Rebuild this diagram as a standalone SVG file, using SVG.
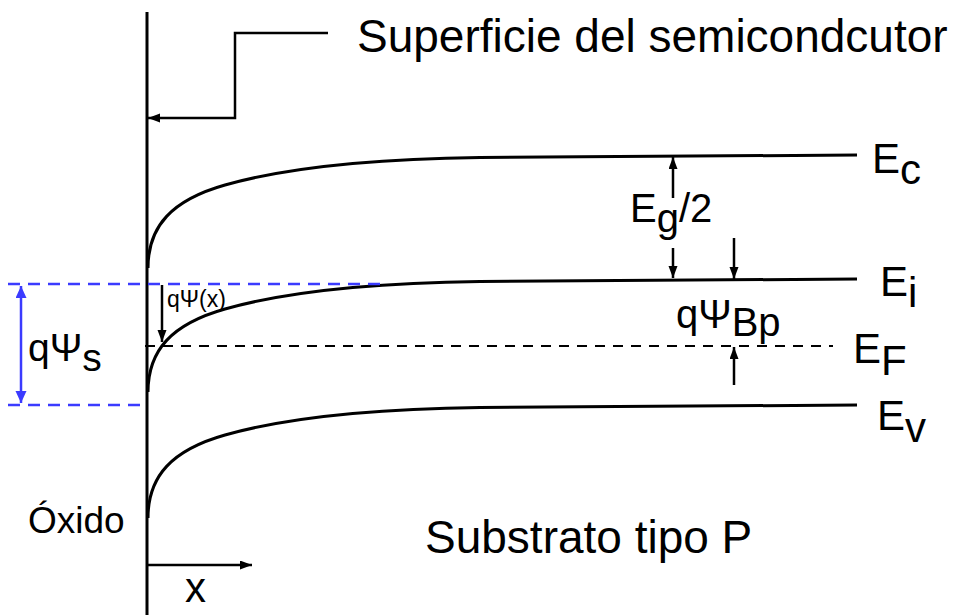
<svg xmlns="http://www.w3.org/2000/svg" width="953" height="615" viewBox="0 0 953 615">
<defs>
<style>
.t{font-family:"Liberation Sans",Arial,sans-serif;fill:#000}
.band{fill:none;stroke:#000;stroke-width:3}
.ln{fill:none;stroke:#000;stroke-width:2.5}
.dash{fill:none;stroke:#000;stroke-width:2.2;stroke-dasharray:10 8}
.bdash{fill:none;stroke:#3b3bff;stroke-width:2.5;stroke-dasharray:12 8}
</style>
<marker id="ah" markerUnits="userSpaceOnUse" markerWidth="14" markerHeight="10" refX="12" refY="4.5" orient="auto">
<path d="M0,0 L12,4.5 L0,9 z" fill="#000"/>
</marker>
<marker id="bh" markerUnits="userSpaceOnUse" markerWidth="14" markerHeight="12" refX="12" refY="5.5" orient="auto-start-reverse">
<path d="M0,0 L12,5.5 L0,11 z" fill="#3b3bff"/>
</marker>
<path id="band" d="M148,268 C148,226 172,200 225,185 C278,170 360,159 480,157.5 L857,155"/>
</defs>

<g id="axes">
<line class="ln" x1="147" y1="12" x2="147" y2="615" style="stroke-width:3"/>
<line class="ln" x1="147" y1="565" x2="252" y2="565" marker-end="url(#ah)"/>
<text class="t" x="185" y="602" font-size="42">x</text>
</g>

<g id="bands">
<use href="#band" class="band"/>
<use href="#band" class="band" transform="translate(0,124)"/>
<use href="#band" class="band" transform="translate(0,250)"/>
<line class="dash" x1="145" y1="346" x2="833" y2="346"/>
</g>

<g id="labels">
<text class="t" x="357" y="52" font-size="46">Superficie del semicondcutor</text>
<text class="t" x="28" y="533" font-size="37">Óxido</text>
<text class="t" x="425" y="553" font-size="46">Substrato tipo P</text>
<text class="t" x="872" y="173" font-size="42">E<tspan dy="11">c</tspan></text>
<text class="t" x="880" y="296" font-size="42">E<tspan dy="11">i</tspan></text>
<text class="t" x="853" y="363" font-size="42">E<tspan dy="12">F</tspan></text>
<text class="t" x="877" y="430" font-size="42">E<tspan dy="12">v</tspan></text>
<text class="t" x="630" y="222" font-size="40">E<tspan dy="10">g</tspan><tspan dy="-10">/2</tspan></text>
<text class="t" x="676" y="328" font-size="40">qΨ<tspan dy="8">Bp</tspan></text>
<text class="t" x="28" y="361" font-size="39">qΨ<tspan dy="10">s</tspan></text>
<text class="t" x="167" y="307" font-size="23">qΨ(x)</text>
</g>

<g id="connectors">
<polyline class="ln" points="328,33 235,33 235,118 148,118" marker-end="url(#ah)"/>
<line class="ln" x1="673" y1="198" x2="673" y2="157" marker-end="url(#ah)"/>
<line class="ln" x1="673" y1="248" x2="673" y2="278" marker-end="url(#ah)"/>
<line class="ln" x1="734" y1="238" x2="734" y2="279" marker-end="url(#ah)"/>
<line class="ln" x1="734" y1="385" x2="734" y2="347" marker-end="url(#ah)"/>
<line class="ln" x1="162" y1="285" x2="162" y2="342" marker-end="url(#ah)"/>
<line class="bdash" x1="8" y1="284" x2="388" y2="284"/>
<line class="bdash" x1="8" y1="405" x2="147" y2="405"/>
<line x1="21" y1="286" x2="21" y2="403" stroke="#3b3bff" stroke-width="2.5" marker-start="url(#bh)" marker-end="url(#bh)"/>
</g>
</svg>
